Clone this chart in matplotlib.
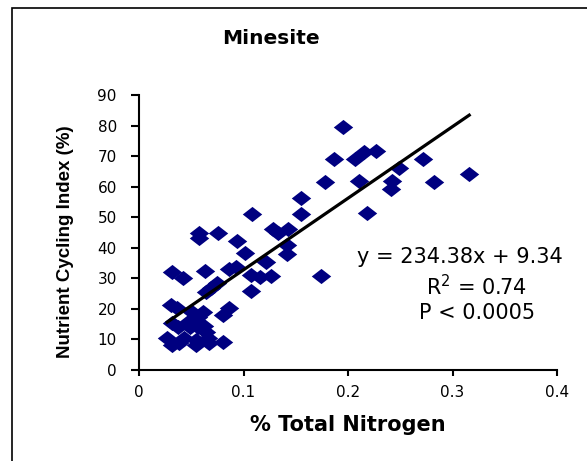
import numpy as np
import matplotlib
matplotlib.use("Agg")
import matplotlib.pyplot as plt
from matplotlib.patches import Rectangle
from matplotlib.path import Path

plt.rcParams["font.family"] = ["DejaVu Sans"]

# data
total_n = [0.195, 0.187, 0.207, 0.215, 0.227, 0.272, 0.249, 0.316, 0.178, 0.211,
           0.242, 0.241, 0.282, 0.218, 0.174, 0.155, 0.155, 0.108, 0.128, 0.133,
           0.143, 0.094, 0.142, 0.142, 0.101, 0.057, 0.057, 0.076, 0.093, 0.122,
           0.107, 0.116, 0.126, 0.107, 0.086, 0.063, 0.032, 0.042, 0.075, 0.069,
           0.064, 0.086, 0.080, 0.031, 0.036, 0.051, 0.061, 0.056, 0.032, 0.037,
           0.047, 0.056, 0.064, 0.062, 0.027, 0.032, 0.043, 0.038, 0.055, 0.055,
           0.066, 0.067, 0.080, 0.049]
nci = [79.4, 68.9, 68.9, 71.4, 71.8, 68.9, 66.0, 64.3, 61.6, 62.0,
       62.0, 59.1, 61.6, 51.3, 30.9, 56.4, 51.2, 51.0, 46.0, 44.7,
       46.0, 42.3, 40.8, 38.1, 38.2, 44.9, 43.1, 44.9, 33.8, 35.4,
       31.1, 30.3, 30.8, 25.8, 33.2, 32.4, 32.2, 30.0, 28.4, 26.7,
       25.6, 20.2, 18.0, 21.3, 20.2, 19.1, 19.1, 17.5, 15.3, 14.0,
       15.8, 14.2, 12.5, 14.5, 10.4, 8.2, 10.4, 8.8, 9.8, 8.2,
       10.4, 8.8, 9.3, 14.2]

slope = 234.38
intercept = 9.34
x_ticks = [0, 0.1, 0.2, 0.3, 0.4]
x_labels = ["0", "0.1", "0.2", "0.3", "0.4"]
y_ticks = [0, 10, 20, 30, 40, 50, 60, 70, 80, 90]

W, H = 587, 461
fig = plt.figure(figsize=(W / 100, H / 100), dpi=100)
ax = fig.add_axes([139 / W, 1 - 370 / H, 418 / W, 275 / H])

# frame around the chart area (cut off on right and bottom)
fig.patches.append(Rectangle((12 / W, -0.1), 1.2, (H - 8) / H + 0.1,
                             transform=fig.transFigure, fill=False,
                             edgecolor="black", linewidth=1.2))

# wide diamond marker like Excel
diamond = Path([(-1, 0), (0, 0.78), (1, 0), (0, -0.78), (-1, 0)],
               [Path.MOVETO, Path.LINETO, Path.LINETO, Path.LINETO, Path.CLOSEPOLY])
ax.plot(total_n, nci, linestyle="none", marker=diamond, markersize=14,
        color="#000080", markeredgewidth=0)

xs = np.array([min(total_n), max(total_n)])
ax.plot(xs, slope * xs + intercept, color="black", linewidth=2.3)

ax.set_xlim(0, 0.4)
ax.set_ylim(0, 90)
ax.set_xticks(x_ticks)
ax.set_xticklabels(x_labels)
ax.set_yticks(y_ticks)
for s in ["top", "right"]:
    ax.spines[s].set_visible(False)
for s in ["left", "bottom"]:
    ax.spines[s].set_linewidth(1.5)
ax.tick_params(axis="x", direction="out", length=4, width=1.5, labelsize=11, pad=7)
ax.tick_params(axis="y", direction="out", length=6, width=1.5, labelsize=11, pad=10)

ax.set_xlabel("% Total Nitrogen", fontsize=15, fontweight="bold", va="center")
ax.xaxis.set_label_coords(0.5, (370 - 425) / 275)
ax.set_ylabel("Nutrient Cycling Index (%)", fontsize=13.5, fontweight="bold",
              family="Liberation Sans", va="center")
ax.yaxis.set_label_coords((65 - 139) / 418, (370 - 242) / 275)

fig.text(271 / W, 1 - 38 / H, "Minesite", fontsize=14.5, fontweight="bold",
         ha="center", va="center")

# trendline label, in pixel positions of the reference
fig.text(357 / W, 1 - 257 / H, "y = 234.38x + 9.34", fontsize=15, ha="left", va="center")
fig.text(477 / W, 1 - 287 / H, "R$^2$ = 0.74", fontsize=15, ha="center", va="center")
fig.text(477 / W, 1 - 313 / H, "P < 0.0005", fontsize=15, ha="center", va="center")

fig.savefig("out.png", dpi=100)
